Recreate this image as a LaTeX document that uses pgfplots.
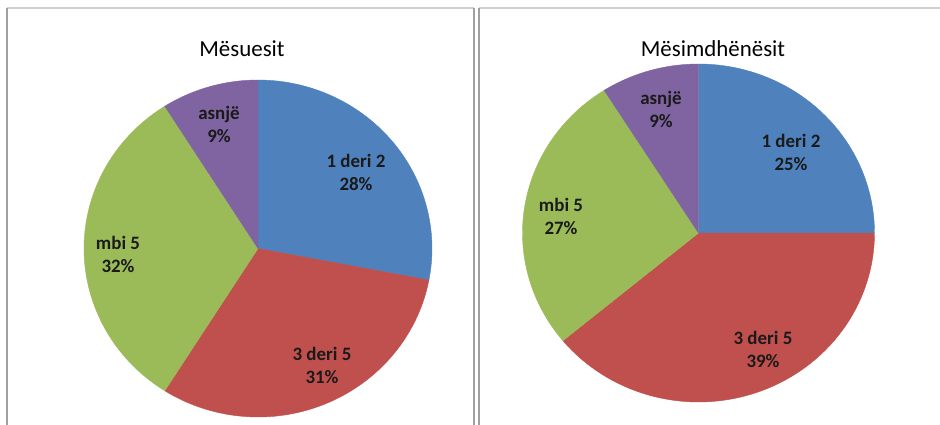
\documentclass[border=0pt]{standalone}
\usepackage{fontspec}
\setmainfont{Carlito}
\usepackage{pgfplots}
\pgfplotsset{compat=1.18}
\definecolor{cBlue}{HTML}{4F81BD}
\definecolor{cRed}{HTML}{C0504D}
\definecolor{cGreen}{HTML}{9BBB59}
\definecolor{cPurple}{HTML}{8064A2}
\definecolor{frameV}{HTML}{A0A0A0}
\definecolor{frameH}{HTML}{CFCFCF}
\definecolor{lbl}{HTML}{1A1A1A}

% one pie slice: start (cumulative %), value (%), colour
\newcommand{\slice}[3]{%
  \pgfmathsetmacro\sliceEnd{#1+#2}%
  \addplot[draw=#3, line width=0.4bp, fill=#3, variable=\t, domain=#1:\sliceEnd, samples=90]
    ({\cx+\rx*cos(90-3.6*\t)},{\cy-\ry*sin(90-3.6*\t)}) -- (axis cs:\cx,\cy) -- cycle;
}

\pgfplotsset{pie axis/.style={scale only axis, width=470bp, height=425bp,
  ymin=0, ymax=425, y dir=reverse, hide axis, clip=false}}
\tikzset{lab/.style={font=\bfseries\fontsize{19}{23}\selectfont, align=center, text=lbl},
  ttl/.style={font=\fontsize{23}{28}\selectfont, anchor=base, text=black}}

\begin{document}
\begin{tikzpicture}
\useasboundingbox (0,0) rectangle (940bp,425bp);
% ---------- Mësuesit ----------
\def\cx{258}\def\cy{248.5}\def\rx{174}\def\ry{168.5}
\begin{axis}[pie axis, xmin=0, xmax=470, at={(0,0)}, anchor=south west]
  \draw[frameH, line width=1.3bp] (axis cs:7,8) -- (axis cs:474,8);
  \draw[frameV, line width=1.3bp] (axis cs:7,440) -- (axis cs:7,8);
  \draw[frameV, line width=1.3bp] (axis cs:474,440) -- (axis cs:474,8);
  \slice{0}{28}{cBlue}
  \slice{28}{31}{cRed}
  \slice{59}{32}{cGreen}
  \slice{91}{9}{cPurple}
  \node[ttl] at (axis cs:242,57) {Mësuesit};
  \node[lab] at (axis cs:356,172) {1 deri 2\\28\%};
  \node[lab] at (axis cs:322,365) {3 deri 5\\31\%};
  \node[lab] at (axis cs:118,254) {mbi 5\\32\%};
  \node[lab] at (axis cs:219,124) {asnjë\\9\%};
\end{axis}
% ---------- Mësimdhënësit ----------
\def\cx{698.5}\def\cy{233}\def\rx{176}\def\ry{169}
\begin{axis}[pie axis, xmin=470, xmax=940, at={(470bp,0)}, anchor=south west]
  \draw[frameH, line width=1.3bp] (axis cs:479,8) -- (axis cs:945,8);
  \draw[frameV, line width=1.3bp] (axis cs:479,440) -- (axis cs:479,8);
  \slice{0}{25}{cBlue}
  \slice{25}{39}{cRed}
  \slice{64}{27}{cGreen}
  \slice{91}{9}{cPurple}
  \node[ttl] at (axis cs:713,57) {Mësimdhënësit};
  \node[lab] at (axis cs:791,152) {1 deri 2\\25\%};
  \node[lab] at (axis cs:763,349) {3 deri 5\\39\%};
  \node[lab] at (axis cs:561,216) {mbi 5\\27\%};
  \node[lab] at (axis cs:661,109) {asnjë\\9\%};
\end{axis}
\end{tikzpicture}
\end{document}
